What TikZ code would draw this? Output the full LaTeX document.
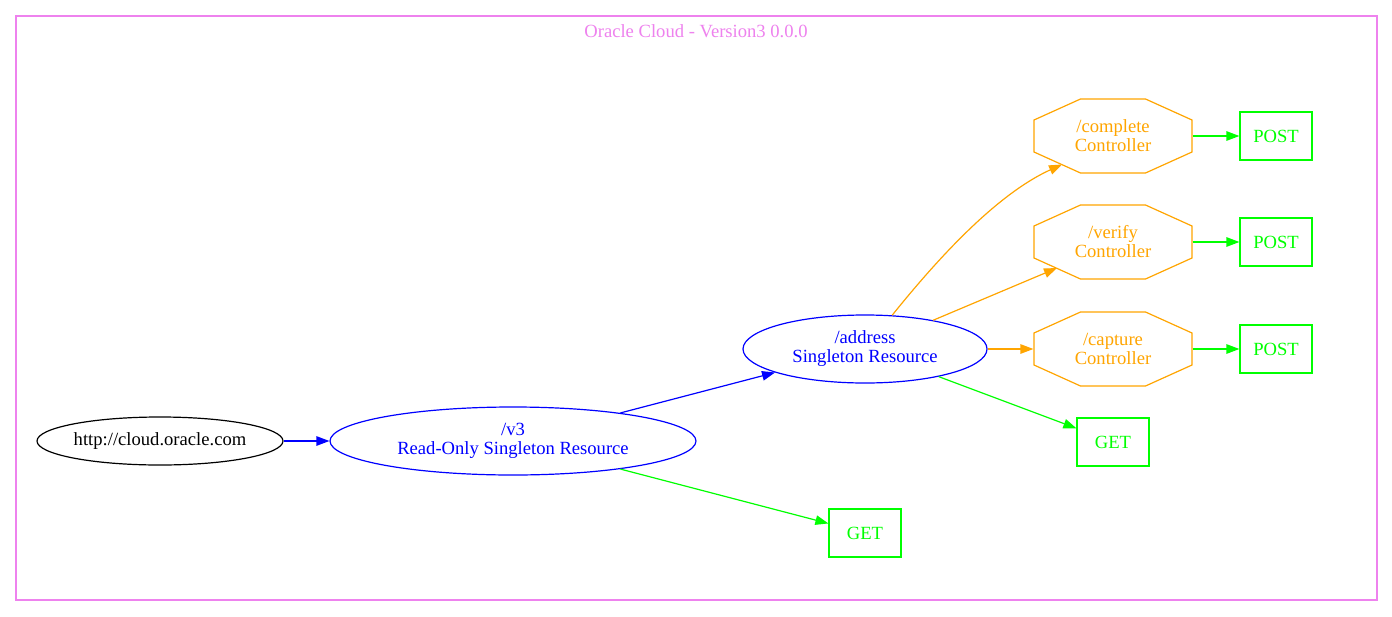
\documentclass[tikz,border=0pt]{standalone}
\usepackage{fontspec}
\setmainfont{Liberation Serif}
\usetikzlibrary{shapes.geometric,arrows.meta,calc}
\definecolor{gvorange}{RGB}{255,165,0}
\definecolor{gvgreen}{RGB}{0,255,0}
\definecolor{gvblue}{RGB}{0,0,255}
\definecolor{gvviolet}{RGB}{238,130,238}
\tikzset{
  base/.style={inner sep=0pt, align=center, font=\fontsize{18.6}{19}\selectfont, line width=1.2pt},
  ellnode/.style={base, ellipse, draw},
  octnode/.style={base, rectangle, minimum width=158pt, minimum height=74pt, text=gvorange},
  octline/.style={draw=gvorange, line width=1.2pt, line join=miter},
  boxnode/.style={base, rectangle, draw=gvgreen, text=gvgreen, minimum width=72pt, minimum height=48pt},
  arr/.style={line width=1.2pt, -{Triangle[length=13pt,width=9.5pt]}},
  bluearr/.style={arr, draw=gvblue},
  greenarr/.style={arr, draw=gvgreen},
  orangearr/.style={arr, draw=gvorange},
}
\begin{document}
\begin{tikzpicture}[x=1pt, y=-1pt]
\useasboundingbox (0,0) rectangle (1392,616);
\fill[white] (0,0) rectangle (1392,616);
\draw[gvviolet, line width=1.2pt] (16,16) rectangle (1377,600);
\node[base, text=gvviolet] (title) at (696,31) {Oracle Cloud - Version3 0.0.0};

\node[ellnode, draw=black, minimum width=246pt, minimum height=48pt] (root) at (160,441) {http://cloud.oracle.com};
\node[ellnode, draw=gvblue, text=gvblue, minimum width=366pt, minimum height=68pt] (v3) at (513,441) {/v3\\Read-Only Singleton Resource};
\node[ellnode, draw=gvblue, text=gvblue, minimum width=244pt, minimum height=68pt] (addr) at (865,349) {/address\\Singleton Resource};
\node[boxnode] (get1) at (865,533) {GET};
\node[boxnode] (get2) at (1113,442) {GET};
\node[octnode] (compl) at (1113,136) {/complete\\Controller};
\node[octnode] (verify) at (1113,242) {/verify\\Controller};
\node[octnode] (capture) at (1113,349) {/capture\\Controller};
\node[boxnode] (post1) at (1276,136) {POST};
\node[boxnode] (post2) at (1276,242) {POST};
\node[boxnode] (post3) at (1276,349) {POST};

\foreach \n in {compl,verify,capture}{
  \draw[octline] ($(\n)+(-32.5,-37)$) -- ($(\n)+(32.5,-37)$) -- ($(\n)+(79,-16)$) -- ($(\n)+(79,16)$)
    -- ($(\n)+(32.5,37)$) -- ($(\n)+(-32.5,37)$) -- ($(\n)+(-79,16)$) -- ($(\n)+(-79,-16)$) -- cycle;
}

\draw[bluearr] (root) -- (v3);
\draw[bluearr] (v3) -- (addr);
\draw[greenarr] (v3) -- (get1);
\draw[orangearr] (addr) .. controls (935,262) and (995,195) .. ($(compl)+(-51,28.5)$);
\draw[orangearr] (addr) -- ($(verify)+(-56,26)$);
\draw[orangearr] (addr) -- (capture);
\draw[greenarr] (addr) -- (get2);
\draw[greenarr] (compl) -- (post1);
\draw[greenarr] (verify) -- (post2);
\draw[greenarr] (capture) -- (post3);
\end{tikzpicture}
\end{document}
